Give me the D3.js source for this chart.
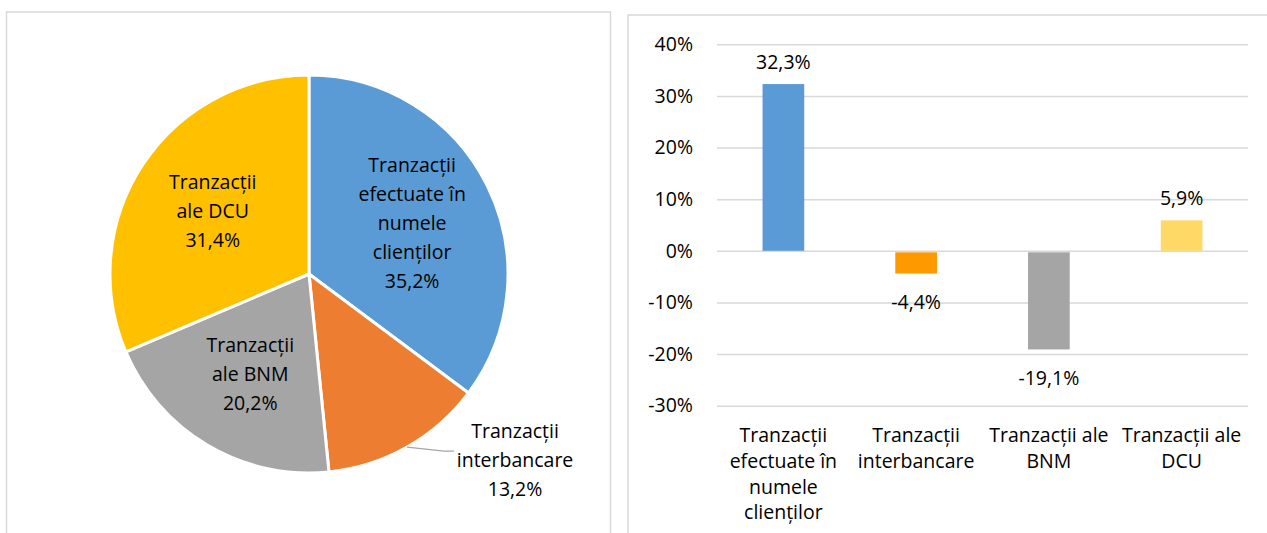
<!DOCTYPE html>
<html>
<head>
<meta charset="utf-8">
<script src="https://cdn.jsdelivr.net/npm/d3@7"></script>
<style>
  body { margin: 0; background: #fff; }
  text { font-family: "Open Sans", sans-serif; fill: #000; }
</style>
</head>
<body>
<div id="chart"></div>
<script>
// pie: structure of transactions
const pieLabels = [
    ["Tranzacții", "efectuate în", "numele", "clienților"],
    ["Tranzacții", "interbancare"],
    ["Tranzacții", "ale BNM"],
    ["Tranzacții", "ale DCU"]
];
const pieShares = [35.2, 13.2, 20.2, 31.4];
const pieColors = ["#5B9BD5", "#ED7D31", "#A5A5A5", "#FFC000"];

// bars: change
const barLabels = [
    ["Tranzacții", "efectuate în", "numele", "clienților"],
    ["Tranzacții", "interbancare"],
    ["Tranzacții ale", "BNM"],
    ["Tranzacții ale", "DCU"]
];
const barChanges = [32.3, -4.4, -19.1, 5.9];
const barColors = ["#5B9BD5", "#FF9900", "#A5A5A5", "#FFD966"];
const yTicks = [-30, -20, -10, 0, 10, 20, 30, 40];

const W = 1267, H = 533;
const FS = 19.5;
const ro = d3.formatLocale({decimal: ",", thousands: " ", grouping: [3], currency: ["", ""], minus: "-"});
const pct1 = ro.format(".1f");
const pct0 = ro.format("d");

let svg = d3.select('#chart')
    .append('svg')
    .attr('width', W)
    .attr('height', H);

svg.append('rect').attr('width', W).attr('height', H).attr('fill', '#fff');

// panel frames
svg.append('rect')
    .attr('x', 6.5).attr('y', 12)
    .attr('width', 604).attr('height', 540)
    .attr('fill', 'none').attr('stroke', '#D9D9D9').attr('stroke-width', 1.5);
svg.append('rect')
    .attr('x', 628).attr('y', 15)
    .attr('width', 660).attr('height', 540)
    .attr('fill', 'none').attr('stroke', '#D9D9D9').attr('stroke-width', 1.5);

// ---------- pie ----------
let cx = 309, cy = 274, r = 199;
let pie = d3.pie().sort(null).value(d => d);
let arcs = pie(pieShares);
let arc = d3.arc().innerRadius(0).outerRadius(r);
let labelArc = d3.arc().innerRadius(r * 0.58).outerRadius(r * 0.58);
let edgeArc = d3.arc().innerRadius(r).outerRadius(r);

let gp = svg.append('g').attr('transform', `translate(${cx},${cy})`);

gp.selectAll('path.slice')
    .data(arcs)
    .enter().append('path')
    .attr('class', 'slice')
    .attr('d', arc)
    .attr('fill', (d, i) => pieColors[i])
    .attr('stroke', '#fff')
    .attr('stroke-width', 3)
    .attr('stroke-linejoin', 'round');

const pieLH = 29;
arcs.forEach((d, i) => {
    let lines = pieLabels[i].concat([pct1(d.data) + "%"]);
    let pos;
    if (d.data < 15) {
        // small slice: label outside with leader line
        let e = edgeArc.centroid(d);
        pos = [e[0] + 108, e[1] + 12];
        gp.append('path')
            .attr('d', d3.line()([[e[0], e[1]], [e[0] + 37, e[1] + 4], [e[0] + 47, e[1] + 4]]))
            .attr('fill', 'none')
            .attr('stroke', '#A6A6A6')
            .attr('stroke-width', 1.3);
    } else {
        pos = labelArc.centroid(d);
    }
    let t = gp.append('text')
        .attr('text-anchor', 'middle')
        .attr('font-size', FS);
    let y0 = pos[1] - (lines.length - 1) * pieLH / 2;
    lines.forEach((ln, k) => {
        t.append('tspan')
            .attr('x', pos[0])
            .attr('y', y0 + k * pieLH)
            .attr('dominant-baseline', 'central')
            .text(ln);
    });
});

// ---------- bars ----------
let x0 = 717, x1 = 1248;
let y = d3.scaleLinear().domain([-30, 40]).range([405.7, 44.3]);
let x = d3.scaleBand().domain(d3.range(barChanges.length)).range([x0, x1]);
let bw = x.bandwidth() * 0.314;

let grid = svg.append('g')
    .attr('transform', `translate(${x0},0)`)
    .call(d3.axisLeft(y)
        .tickValues(yTicks)
        .tickSize(-(x1 - x0))
        .tickPadding(24)
        .tickFormat(d => pct0(d) + "%"));
grid.select('.domain').remove();
grid.selectAll('line').attr('stroke', '#D9D9D9').attr('stroke-width', 1.5);
grid.selectAll('text')
    .attr('font-family', '"Open Sans", sans-serif')
    .attr('font-size', FS)
    .attr('fill', '#000');

let gb = svg.append('g');
gb.selectAll('rect.bar')
    .data(barChanges)
    .enter().append('rect')
    .attr('class', 'bar')
    .attr('x', (d, i) => x(i) + x.bandwidth() / 2 - bw / 2)
    .attr('y', d => d >= 0 ? y(d) : y(0) + 1.5)
    .attr('width', bw)
    .attr('height', d => Math.abs(y(d) - y(0)) - (d >= 0 ? 0 : 1.5))
    .attr('fill', (d, i) => barColors[i]);

gb.selectAll('text.val')
    .data(barChanges)
    .enter().append('text')
    .attr('class', 'val')
    .attr('text-anchor', 'middle')
    .attr('dominant-baseline', 'central')
    .attr('font-size', FS)
    .attr('x', (d, i) => x(i) + x.bandwidth() / 2)
    .attr('y', d => d >= 0 ? y(d) - 23 : y(d) + 28)
    .text(d => pct1(d) + "%");

const catLH = 25.7;
barLabels.forEach((lines, i) => {
    let t = svg.append('text')
        .attr('text-anchor', 'middle')
        .attr('font-size', FS);
    lines.forEach((ln, k) => {
        t.append('tspan')
            .attr('x', x(i) + x.bandwidth() / 2)
            .attr('y', y(-30) + 29 + k * catLH)
            .attr('dominant-baseline', 'central')
            .text(ln);
    });
});
</script>
</body>
</html>
